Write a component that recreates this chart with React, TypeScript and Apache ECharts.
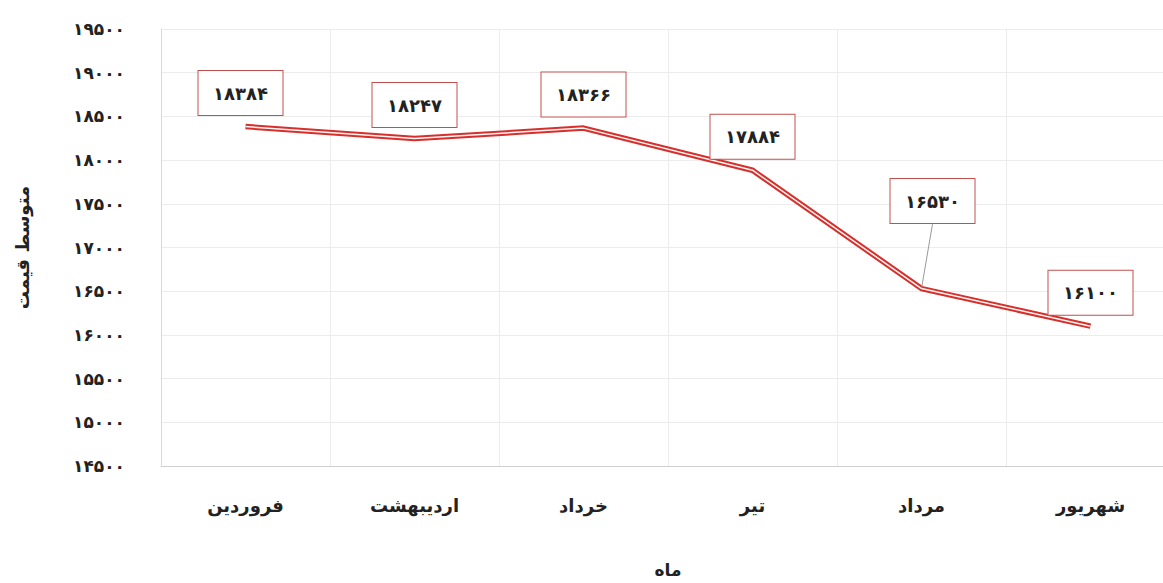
import React, { useEffect, useRef } from "react";
import * as echarts from "echarts";

const months = ["فروردین", "اردیبهشت", "خرداد", "تیر", "مرداد", "شهریور"];
const avgPrice = [18384, 18247, 18366, 17884, 16530, 16100];
const yMin = 14500;
const yMax = 19500;
const yStep = 500;
const xName = "ماه";
const yName = "متوسط قیمت";

const FONT = "DejaVu Sans";
const toFa = (v: number | string) =>
  String(v).replace(/[0-9]/g, (d) => "۰۱۲۳۴۵۶۷۸۹"[Number(d)]);

export default function App() {
  const ref = useRef<HTMLDivElement>(null);
  useEffect(() => {
    if (!ref.current) return;
    const chart = echarts.init(ref.current, null, { renderer: "svg" });
    const labelData = avgPrice.map((v, i) =>
      i === 4
        ? { value: v, labelLine: { show: true, lineStyle: { color: "#9a9a9a", width: 1 } } }
        : { value: v }
    );
    chart.setOption({
      animation: false,
      backgroundColor: "#ffffff",
      grid: { left: 161, right: 5, top: 29, bottom: 111 },
      xAxis: {
        type: "category",
        data: months,
        boundaryGap: true,
        name: xName,
        nameLocation: "middle",
        nameGap: 95,
        nameTextStyle: { fontFamily: FONT, fontSize: 17, fontWeight: "bold", color: "#222" },
        axisLine: { show: true, lineStyle: { color: "#d0d0d0", width: 1 } },
        axisTick: { show: false },
        axisLabel: { fontFamily: FONT, fontSize: 18, fontWeight: "bold", color: "#222", margin: 30 },
        splitLine: { show: true, lineStyle: { color: "#ececec", width: 1 } },
      },
      yAxis: {
        type: "value",
        min: yMin,
        max: yMax,
        interval: yStep,
        name: yName,
        nameLocation: "middle",
        nameGap: 130,
        nameRotate: 90,
        nameTextStyle: { fontFamily: FONT, fontSize: 18, fontWeight: "bold", color: "#222" },
        axisLine: { show: true, lineStyle: { color: "#d9d9d9", width: 1 } },
        axisTick: { show: false },
        axisLabel: {
          fontFamily: FONT,
          fontSize: 17,
          fontWeight: "bold",
          color: "#222",
          margin: 36,
          formatter: (v: number) => toFa(v),
        },
        splitLine: { show: true, lineStyle: { color: "#ececec", width: 1 } },
      },
      series: [
        {
          type: "line",
          data: avgPrice,
          symbol: "none",
          z: 2,
          lineStyle: { color: "#d6302c", width: 5.5 },
          silent: true,
        },
        {
          type: "line",
          data: avgPrice,
          symbol: "none",
          z: 3,
          lineStyle: { color: "#fff4f4", width: 1.5 },
          silent: true,
        },
        {
          type: "line",
          data: labelData,
          symbol: "circle",
          symbolSize: 1,
          z: 5,
          itemStyle: { color: "rgba(0,0,0,0)" },
          lineStyle: { opacity: 0 },
          label: {
            show: true,
            position: "top",
            distance: 11,
            formatter: (p: any) => toFa(p.value),
            fontFamily: FONT,
            fontSize: 18,
            fontWeight: "bold",
            color: "#222",
            backgroundColor: "#ffffff",
            borderColor: "#c0504d",
            borderWidth: 1,
            padding: [12, 11],
            width: 62,
            lineHeight: 20,
            align: "center",
          },
          labelLayout: (p: any) => {
            if (p.dataIndex === 0) return { dx: -5 };
            if (p.dataIndex === 4) return { dx: 11, dy: -54 };
            return {};
          },
        },
      ],
    });
    return () => chart.dispose();
  }, []);
  return (
    <div
      style={{ position: "fixed", left: 0, top: 0, width: 1163, height: 583, overflow: "hidden" }}
    >
      <div ref={ref} style={{ width: 1180, height: 583 }} />
    </div>
  );
}
